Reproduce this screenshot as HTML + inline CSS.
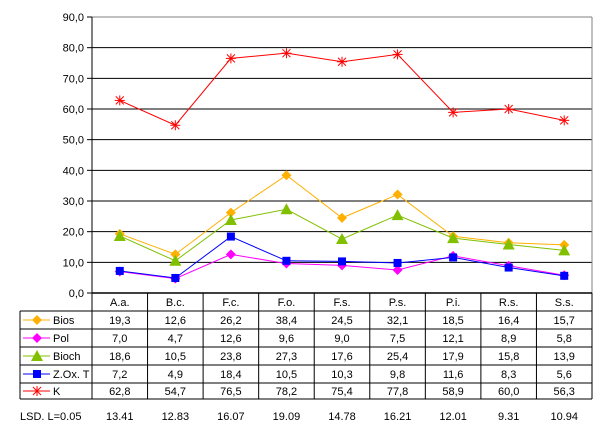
<!DOCTYPE html>
<html><head><meta charset="utf-8"><style>body{margin:0;background:#fff}svg{display:block;font-family:"Liberation Sans",sans-serif}</style></head>
<body>
<svg id="c" width="611" height="440"></svg>
<script>
const categories=["A.a.","B.c.","F.c.","F.o.","F.s.","P.s.","P.i.","R.s.","S.s."];
const bios=[19.3,12.6,26.2,38.4,24.5,32.1,18.5,16.4,15.7];
const pol=[7.0,4.7,12.6,9.6,9.0,7.5,12.1,8.9,5.8];
const bioch=[18.6,10.5,23.8,27.3,17.6,25.4,17.9,15.8,13.9];
const zox=[7.2,4.9,18.4,10.5,10.3,9.8,11.6,8.3,5.6];
const k=[62.8,54.7,76.5,78.2,75.4,77.8,58.9,60.0,56.3];
const lsd=["13.41","12.83","16.07","19.09","14.78","16.21","12.01","9.31","10.94"];
const yTicks=[0,10,20,30,40,50,60,70,80,90];
const series=[
 {name:"Bios",data:bios,color:"#ffb000",m:"diamond"},
 {name:"Pol",data:pol,color:"#ff00ff",m:"diamond"},
 {name:"Bioch",data:bioch,color:"#80c000",m:"tri"},
 {name:"Z.Ox. T",data:zox,color:"#0000ff",m:"square"},
 {name:"K",data:k,color:"#ff0000",m:"star"}];
const X0=92,X1=592,Y0=293,Y1=17,YMAX=90;
const cw=(X1-X0)/categories.length;
const xs=i=>X0+cw*(i+0.5);
const ys=v=>Y0-(v/YMAX)*(Y0-Y1);
const svg=document.getElementById('c');const NS="http://www.w3.org/2000/svg";
function el(t,a,p){const e=document.createElementNS(NS,t);for(const k in a)e.setAttribute(k,a[k]);(p||svg).appendChild(e);return e;}
const fmt=v=>v.toFixed(1).replace('.',',');
yTicks.forEach(t=>{const y=ys(t);
 const g=el('line',{x1:X0,x2:X1,y1:y,y2:y,stroke:t==90?'#808080':'#000','stroke-width':1});
 
 el('line',{x1:X0-5,x2:X0,y1:y,y2:y,stroke:'#000'});
 const tx=el('text',{x:X0-8,y:y+4,'font-size':11,'text-anchor':'end'});tx.textContent=fmt(t);
 });
el('line',{x1:X0,x2:X0,y1:Y1,y2:Y0,stroke:'#000'});
el('line',{x1:X1,x2:X1,y1:Y1,y2:Y0,stroke:'#808080'});
function marker(g,m,x,y,c){
 if(m=="diamond")el('polygon',{points:`${x},${y-5} ${x+5},${y} ${x},${y+5} ${x-5},${y}`,fill:c},g);
 else if(m=="tri")el('polygon',{points:`${x},${y-6} ${x+6},${y+5} ${x-6},${y+5}`,fill:c},g);
 else if(m=="square")el('rect',{x:x-4,y:y-4,width:8,height:8,fill:c},g);
 else{[[-5,0,5,0],[0,-5,0,5],[-4,-4,4,4],[-4,4,4,-4]].forEach(d=>el('line',{x1:x+d[0],y1:y+d[1],x2:x+d[2],y2:y+d[3],stroke:c,'stroke-width':1},g));}
}
series.forEach(s=>{const g=el('g',{});
 el('polyline',{points:s.data.map((v,i)=>xs(i)+','+ys(v)).join(' '),fill:'none',stroke:s.color,'stroke-width':1},g);
 s.data.forEach((v,i)=>marker(g,s.m,xs(i),ys(v),s.color));});
// table
const rowY=[293,311,329,347,365,383,399];const TL=20;
el('line',{x1:X0,x2:X1,y1:Y0,y2:Y0,stroke:'#000','stroke-width':1.5});
for(let r=1;r<rowY.length;r++)el('line',{x1:TL,x2:X1,y1:rowY[r],y2:rowY[r],stroke:'#000'});
el('line',{x1:TL,x2:TL,y1:311,y2:399,stroke:'#000'});
for(let i=0;i<=categories.length;i++)el('line',{x1:X0+cw*i,x2:X0+cw*i,y1:293,y2:399,stroke:'#000'});
categories.forEach((c,i)=>{const t=el('text',{x:xs(i),y:306,'font-size':11,'text-anchor':'middle'});t.textContent=c;
 });
series.forEach((s,r)=>{const yc=(rowY[r+1]+rowY[r+2])/2;
 const lg=el('g',{});
 el('line',{x1:23,x2:50,y1:yc,y2:yc,stroke:s.color},lg);marker(lg,s.m,37,yc,s.color);
 const lt=el('text',{x:53,y:yc+4,'font-size':11},lg);lt.textContent=s.name;
 s.data.forEach((v,i)=>{const t=el('text',{x:xs(i),y:yc+4,'font-size':11,'text-anchor':'middle'});t.textContent=fmt(v);
  });});
const l=el('text',{x:20,y:420,'font-size':11});l.textContent="LSD.  L=0.05";

lsd.forEach((v,i)=>{const t=el('text',{x:xs(i),y:420,'font-size':11,'text-anchor':'middle'});t.textContent=v;
 });
</script>
</body></html>
